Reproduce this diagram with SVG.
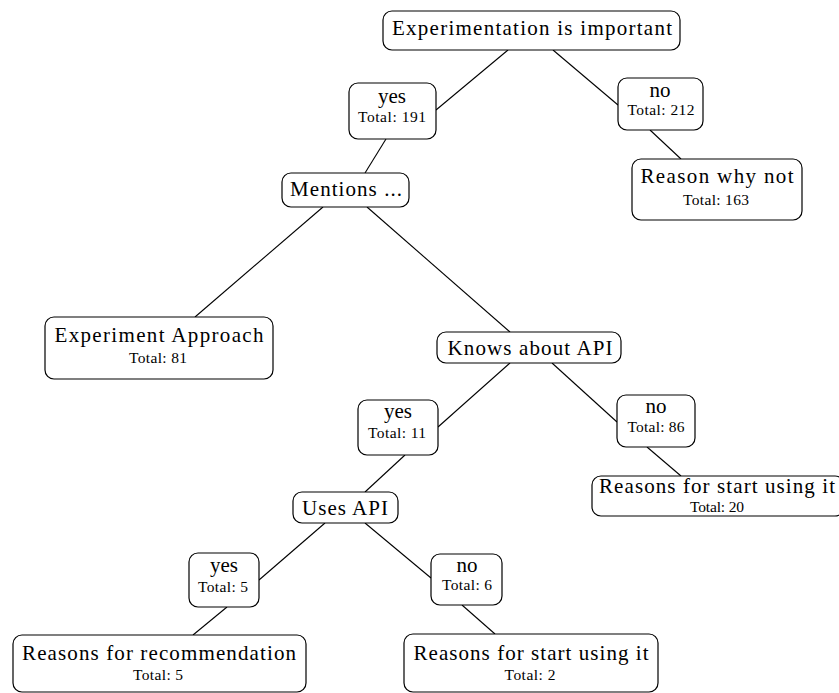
<svg xmlns="http://www.w3.org/2000/svg" width="839" height="693" viewBox="0 0 839 693">
<style>
.box{fill:#fff;stroke:#000;stroke-width:1.2}
.t{font-family:"Liberation Serif","Times New Roman",serif;font-size:21px;fill:#000;text-anchor:middle}
.s{font-family:"Liberation Serif","Times New Roman",serif;font-size:15.5px;fill:#000;text-anchor:middle}
.e line{stroke:#000;stroke-width:1.1}
</style>
<rect width="839" height="693" fill="#fff"/>
<g id="edges" class="e">
<line x1="508" y1="50" x2="436" y2="110"/>
<line x1="553" y1="50" x2="618" y2="105"/>
<line x1="650" y1="130" x2="681" y2="159"/>
<line x1="386" y1="139" x2="365" y2="173"/>
<line x1="323" y1="207" x2="195" y2="317"/>
<line x1="367" y1="207" x2="510" y2="332"/>
<line x1="510" y1="363" x2="438" y2="427"/>
<line x1="552" y1="363" x2="617" y2="422"/>
<line x1="647" y1="447" x2="681" y2="476"/>
<line x1="405" y1="455" x2="365" y2="492"/>
<line x1="325" y1="523" x2="259" y2="580"/>
<line x1="365" y1="523" x2="431" y2="578"/>
<line x1="227" y1="607" x2="193" y2="635"/>
<line x1="462" y1="605" x2="495" y2="634"/>
</g>
<g id="n1"><rect class="box" x="383" y="11" width="297" height="39" rx="9"/><text class="t" x="532" y="35" textLength="280" lengthAdjust="spacing">Experimentation is important</text></g>
<g id="n2"><rect class="box" x="349" y="83" width="87" height="56" rx="9"/><text class="t" x="392" y="103">yes</text><text class="s" x="392" y="122" textLength="68" lengthAdjust="spacing">Total: 191</text></g>
<g id="n3"><rect class="box" x="618" y="78" width="85" height="52" rx="9"/><text class="t" x="660" y="97">no</text><text class="s" x="661" y="115" textLength="67" lengthAdjust="spacing">Total: 212</text></g>
<g id="n4"><rect class="box" x="632" y="159" width="170" height="61" rx="9"/><text class="t" x="717" y="183" textLength="153" lengthAdjust="spacing">Reason why not</text><text class="s" x="716" y="205" textLength="66" lengthAdjust="spacing">Total: 163</text></g>
<g id="n5"><rect class="box" x="282" y="173" width="127" height="34" rx="9"/><text class="t" x="346" y="196" textLength="112" lengthAdjust="spacing">Mentions ...</text></g>
<g id="n6"><rect class="box" x="45" y="317" width="228" height="62" rx="9"/><text class="t" x="159" y="342" textLength="209" lengthAdjust="spacing">Experiment Approach</text><text class="s" x="158" y="363" textLength="58" lengthAdjust="spacing">Total: 81</text></g>
<g id="n7"><rect class="box" x="437" y="332" width="184" height="31" rx="9"/><text class="t" x="530" y="355" textLength="165" lengthAdjust="spacing">Knows about API</text></g>
<g id="n8"><rect class="box" x="358" y="400" width="80" height="55" rx="9"/><text class="t" x="398" y="418">yes</text><text class="s" x="397" y="438" textLength="58" lengthAdjust="spacing">Total: 11</text></g>
<g id="n9"><rect class="box" x="617" y="395" width="78" height="52" rx="9"/><text class="t" x="656" y="413">no</text><text class="s" x="656" y="432" textLength="57" lengthAdjust="spacing">Total: 86</text></g>
<g id="n10"><rect class="box" x="592" y="476" width="252" height="40" rx="9"/><text class="t" x="717" y="493" textLength="236" lengthAdjust="spacing">Reasons for start using it</text><text class="s" x="717" y="512" textLength="54" lengthAdjust="spacing">Total: 20</text></g>
<g id="n11"><rect class="box" x="293" y="492" width="105" height="31" rx="9"/><text class="t" x="345" y="515" textLength="86" lengthAdjust="spacing">Uses API</text></g>
<g id="n12"><rect class="box" x="189" y="553" width="70" height="54" rx="9"/><text class="t" x="224" y="572">yes</text><text class="s" x="223" y="592" textLength="50" lengthAdjust="spacing">Total: 5</text></g>
<g id="n13"><rect class="box" x="431" y="554" width="71" height="51" rx="9"/><text class="t" x="467" y="572">no</text><text class="s" x="467" y="590" textLength="50" lengthAdjust="spacing">Total: 6</text></g>
<g id="n14"><rect class="box" x="13" y="635" width="293" height="57" rx="9"/><text class="t" x="159" y="660" textLength="274" lengthAdjust="spacing">Reasons for recommendation</text><text class="s" x="158" y="680" textLength="50" lengthAdjust="spacing">Total: 5</text></g>
<g id="n15"><rect class="box" x="404" y="634" width="254" height="58" rx="9"/><text class="t" x="531" y="660" textLength="235" lengthAdjust="spacing">Reasons for start using it</text><text class="s" x="530" y="680" textLength="51" lengthAdjust="spacing">Total: 2</text></g>
</svg>
